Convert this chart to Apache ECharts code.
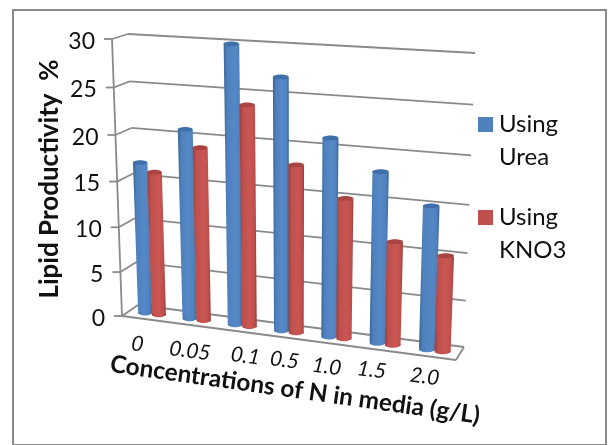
<!DOCTYPE html>
<html>
<head>
<meta charset="utf-8">
<style>html,body{margin:0;padding:0;background:#fff}#main{width:608px;height:445px}</style>
<script src="https://cdn.jsdelivr.net/npm/echarts@6/dist/echarts.min.js"></script>
</head>
<body>
<div id="main"></div>
<script>
var categories = ['0', '0.05', '0.1', '0.5', '1.0', '1.5', '2.0'];
var urea = [16.8, 20.8, 30.0, 27.0, 21.2, 18.2, 15.2];
var kno3 = [15.9, 19.0, 23.9, 18.1, 15.1, 11.1, 10.2];
var yTicks = [0, 5, 10, 15, 20, 25, 30];

var FONT = 'Lato, "Open Sans", sans-serif';
var LINE = '#8a8a8a';
var FRAME = {left: 13, top: 10, right: 2, bottom: -10};
var Y_MAX = 30;

// corners of the box: [bottom left, bottom right, top right, top left]
var BACK = [[138, 305], [464, 347], [475, 53], [128, 34]];
var FRONT = [[122, 316], [456, 360], [467, 66], [112, 39]];
var BAR_DEPTH = 0.5;
var BAR_HALF = 0.16, BAR_SHIFT = 0.155;
// small hand nudges for the slanted category labels
var LABEL_DX = [-7, 0, 9, 1, -5, -9, -6];
var LABEL_DY = [25, 26, 25, 23, 23, 20, 20];

function lerpCorners(d) {
	return BACK.map(function(p, i) {
		return [p[0] + (FRONT[i][0] - p[0]) * d, p[1] + (FRONT[i][1] - p[1]) * d];
	});
}

// unit square -> quad
function warp(q, s, t) {
	var dx1 = q[1][0] - q[2][0], dx2 = q[3][0] - q[2][0], sx = q[0][0] - q[1][0] + q[2][0] - q[3][0];
	var dy1 = q[1][1] - q[2][1], dy2 = q[3][1] - q[2][1], sy = q[0][1] - q[1][1] + q[2][1] - q[3][1];
	var det = dx1 * dy2 - dx2 * dy1;
	var g = (sx * dy2 - dx2 * sy) / det;
	var h = (dx1 * sy - sx * dy1) / det;
	var a = q[1][0] - q[0][0] + g * q[1][0], b = q[3][0] - q[0][0] + h * q[3][0];
	var d = q[1][1] - q[0][1] + g * q[1][1], e = q[3][1] - q[0][1] + h * q[3][1];
	var w = g * s + h * t + 1;
	return [(a * s + b * t + q[0][0]) / w, (d * s + e * t + q[0][1]) / w];
}

// the hidden cartesian scale gives the fractions, the box warps them
function unit(params, pt) {
	var c = params.coordSys;
	return [(pt[0] - c.x) / c.width, (c.y + c.height - pt[1]) / c.height];
}

function line(a, b, width) {
	return {
		type: 'line',
		shape: {x1: a[0], y1: a[1], x2: b[0], y2: b[1]},
		style: {stroke: LINE, lineWidth: width || 1.8}
	};
}

function renderWall(params, api) {
	var f = unit(params, api.coord([0, api.value(0)]));
	var t = f[1];
	var a = warp(FRONT, 0, t), b = warp(BACK, 0, t), c = warp(BACK, 1, t);
	var kids = [line([a[0] - 8, a[1]], a), line(a, b), line(b, c)];
	if (api.value(0) === 0) {
		kids.push(line(warp(FRONT, 0, 0), warp(FRONT, 1, 0)));
		kids.push(line(warp(FRONT, 1, 0), warp(BACK, 1, 0)));
		kids.push(line(warp(FRONT, 0, 0), warp(FRONT, 0, 1)));
	}
	kids.push({
		type: 'text',
		style: {
			text: String(api.value(0)), x: a[0] - 17, y: a[1] + 2.5,
			font: '23px ' + FONT, fill: '#111',
			textAlign: 'right', textVerticalAlign: 'middle'
		}
	});
	return {type: 'group', children: kids};
}

function renderCatLabel(params, api) {
	var i = api.value(0);
	var f = unit(params, api.coord([i, 0]));
	var p = warp(FRONT, f[0], 0);
	return {
		type: 'text',
		x: p[0] + LABEL_DX[i],
		y: p[1] + LABEL_DY[i],
		rotation: -0.13,
		style: {
			text: categories[i], x: 0, y: 0,
			font: 'italic 21px ' + FONT, fill: '#111',
			textAlign: 'center', textVerticalAlign: 'middle'
		}
	};
}

function makeBar(shift, edge, mid, light, cap) {
	var grad = new echarts.graphic.LinearGradient(0, 0, 1, 0, [
		{offset: 0, color: edge},
		{offset: 0.2, color: mid},
		{offset: 0.6, color: light},
		{offset: 0.85, color: mid},
		{offset: 1, color: edge}
	]);
	return function(params, api) {
		var q = lerpCorners(BAR_DEPTH);
		var f = unit(params, api.coord([api.value(0), api.value(1)]));
		var n = categories.length;
		var u = f[0] + shift / n, half = BAR_HALF / n, v = f[1];
		var bl = warp(q, u - half, 0), br = warp(q, u + half, 0);
		var tl = warp(q, u - half, v), tr = warp(q, u + half, v);
		var ry = 3;
		return {
			type: 'group',
			children: [{
				type: 'ellipse',
				shape: {cx: (bl[0] + br[0]) / 2, cy: (bl[1] + br[1]) / 2, rx: (br[0] - bl[0]) / 2, ry: ry},
				style: {fill: grad}
			}, {
				type: 'polygon',
				shape: {points: [tl, tr, br, bl]},
				style: {fill: grad}
			}, {
				type: 'ellipse',
				shape: {cx: (tl[0] + tr[0]) / 2, cy: (tl[1] + tr[1]) / 2, rx: (tr[0] - tl[0]) / 2, ry: 2.4},
				style: {fill: cap}
			}]
		};
	};
}

var chart = echarts.init(document.getElementById('main'));

chart.setOption({
	animation: false,
	backgroundColor: '#fff',
	grid: {
		left: FRAME.left, top: FRAME.top, right: FRAME.right, bottom: FRAME.bottom,
		show: true, borderColor: LINE, borderWidth: 2, backgroundColor: 'transparent'
	},
	xAxis: {type: 'category', data: categories, show: false},
	yAxis: {type: 'value', min: 0, max: Y_MAX, interval: 5, show: false},
	legend: {
		orient: 'vertical',
		left: 473,
		top: 70,
		itemWidth: 15,
		itemHeight: 15,
		itemGap: -6,
		icon: 'rect',
		selectedMode: false,
		data: [
			{name: 'Using Urea', itemStyle: {color: '#4f81bd'}},
			{name: 'Using KNO3', itemStyle: {color: '#c0504d'}}
		],
		formatter: function(name) {
			return ' \n' + name.replace(' ', '\n');
		},
		textStyle: {fontFamily: FONT, fontSize: 24, lineHeight: 33, color: '#111', padding: [0, 0, 0, 1]}
	},
	graphic: [{
		type: 'text',
		x: 50, y: 179,
		rotation: Math.PI / 2,
		style: {
			text: 'Lipid Productivity  %',
			font: 'bold 26px ' + FONT, fill: '#111',
			textAlign: 'center', textVerticalAlign: 'middle'
		}
	}, {
		type: 'text',
		x: 295, y: 390,
		rotation: -0.14,
		style: {
			text: 'Concentrations of N in media (g/L)',
			font: 'bold 24.4px ' + FONT, fill: '#111',
			textAlign: 'center', textVerticalAlign: 'middle'
		}
	}],
	series: [{
		type: 'custom',
		name: 'walls',
		coordinateSystem: 'cartesian2d',
		renderItem: renderWall,
		data: yTicks.map(function(t) { return [t]; }),
		encode: {y: 0},
		silent: true
	}, {
		type: 'custom',
		name: 'labels',
		coordinateSystem: 'cartesian2d',
		renderItem: renderCatLabel,
		data: categories.map(function(c, i) { return [i]; }),
		encode: {x: 0},
		silent: true
	}, {
		type: 'custom',
		name: 'Using Urea',
		coordinateSystem: 'cartesian2d',
		renderItem: makeBar(-BAR_SHIFT, '#3a6799', '#4f81bd', '#5588c6', '#3f6fa8'),
		data: urea.map(function(v, i) { return [i, v]; }),
		encode: {x: 0, y: 1}
	}, {
		type: 'custom',
		name: 'Using KNO3',
		coordinateSystem: 'cartesian2d',
		renderItem: makeBar(BAR_SHIFT, '#963f3d', '#c0504d', '#c95653', '#a84441'),
		data: kno3.map(function(v, i) { return [i, v]; }),
		encode: {x: 0, y: 1}
	}]
});

window.onresize = function() {
	chart.resize();
};
</script>
</body>
</html>
